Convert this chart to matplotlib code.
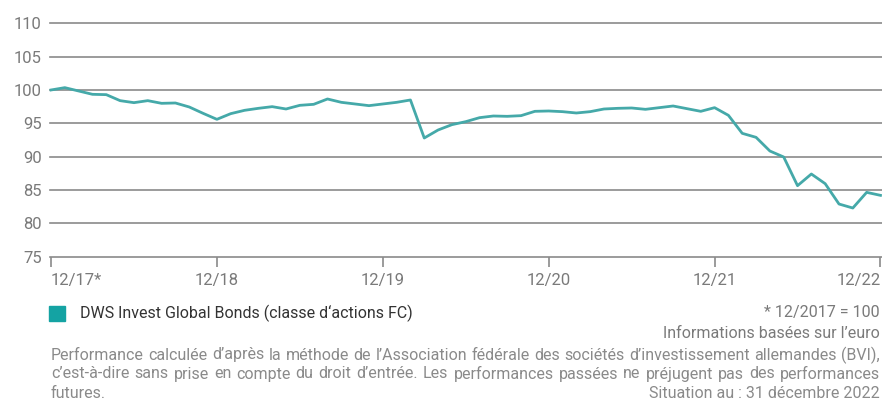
import matplotlib
matplotlib.use("Agg")
import matplotlib.pyplot as plt
from matplotlib.patches import Rectangle

plt.rcParams['font.family'] = ['Roboto', 'DejaVu Sans']

# monthly index values, 12/2017 = 100
values = [100.0, 100.35, 99.85, 99.35, 99.3, 98.4, 98.1, 98.4, 98.0, 98.05,
          97.45, 96.5, 95.6, 96.45, 96.95, 97.25, 97.5, 97.15, 97.7, 97.85,
          98.65, 98.15, 97.9, 97.65, 97.9, 98.15, 98.5, 92.8, 94.0, 94.8,
          95.25, 95.85, 96.1, 96.05, 96.15, 96.8, 96.85, 96.75, 96.55, 96.75,
          97.15, 97.25, 97.3, 97.1, 97.35, 97.6, 97.2, 96.8, 97.35, 96.2,
          93.5, 92.9, 90.85, 89.95, 85.65, 87.4, 85.95, 82.9, 82.3, 84.65,
          84.2]
months = list(range(len(values)))
tick_pos = [0, 12, 24, 36, 48, 60]
tick_labels = ['12/17*', '12/18', '12/19', '12/20', '12/21', '12/22']
y_ticks = [75, 80, 85, 90, 95, 100, 105, 110]

legend_label = 'DWS Invest Global Bonds (classe d‘actions FC)'
note1 = '* 12/2017 = 100'
note2 = 'Informations basées sur l’euro'
footer = [
    'Performance calculée d’après la méthode de l’Association fédérale des sociétés d’investissement allemandes (BVI),',
    'c’est-à-dire sans prise en compte du droit d’entrée. Les performances passées ne préjugent pas des performances',
]
footer_last = 'futures.'
situation = 'Situation au : 31 décembre 2022'

W, H = 882, 401
grey = '#8a8a8a'
teal = '#45a9a9'
fs = 11.5

fig = plt.figure(figsize=(W / 100, H / 100), dpi=100)
ax = fig.add_axes([50 / W, 1 - 256.7 / H, 832 / W, 233.4 / H])

for v in y_ticks:
    ax.axhline(v, color=grey, lw=1.2, clip_on=False, zorder=1)
ax.plot(months, values, color=teal, lw=2.0, zorder=3, clip_on=False)

ax.set_xlim(-0.072, 60.11)
ax.set_ylim(75, 110)
for s in ax.spines.values():
    s.set_visible(False)

ax.set_xticks(tick_pos, tick_labels)
ax.set_yticks(y_ticks)
ax.tick_params(axis='x', length=7.5, width=1.2, color=grey, labelsize=12,
               labelcolor='#7a7a7a', pad=4)
ax.tick_params(axis='y', length=0, pad=6, labelsize=12, labelcolor='#7a7a7a')
xl = ax.get_xticklabels()
xl[0].set_ha('left')
xl[-1].set_ha('right')

# legend
fig.add_artist(Rectangle((49 / W, 1 - 321 / H), 16 / W, 15 / H,
                         transform=fig.transFigure, color='#14a3a3'))
fig.text(80 / W, 1 - 313 / H, legend_label, va='center', fontsize=fs, color='#333333')
fig.text(880 / W, 1 - 313 / H, note1, va='center', ha='right', fontsize=fs, color='#7a7a7a')
fig.text(880 / W, 1 - 333 / H, note2, va='center', ha='right', fontsize=fs, color='#7a7a7a')

renderer = fig.canvas.get_renderer()


def justify(line, y, x0=51, x1=880):
    words = line.split()
    texts = [fig.text(0, 1 - y / H, w, va='center', fontsize=fs, color='#8a8a8a')
             for w in words]
    widths = [t.get_window_extent(renderer).width for t in texts]
    gap = (x1 - x0 - sum(widths)) / (len(words) - 1)
    x = x0
    for t, w in zip(texts, widths):
        t.set_x(x / W)
        x += w + gap


justify(footer[0], 355)
justify(footer[1], 374)
fig.text(51 / W, 1 - 393 / H, footer_last, va='center', fontsize=fs, color='#8a8a8a')
fig.text(880 / W, 1 - 393 / H, situation, va='center', ha='right', fontsize=fs, color='#8a8a8a')

fig.savefig('out.png', dpi=100)
